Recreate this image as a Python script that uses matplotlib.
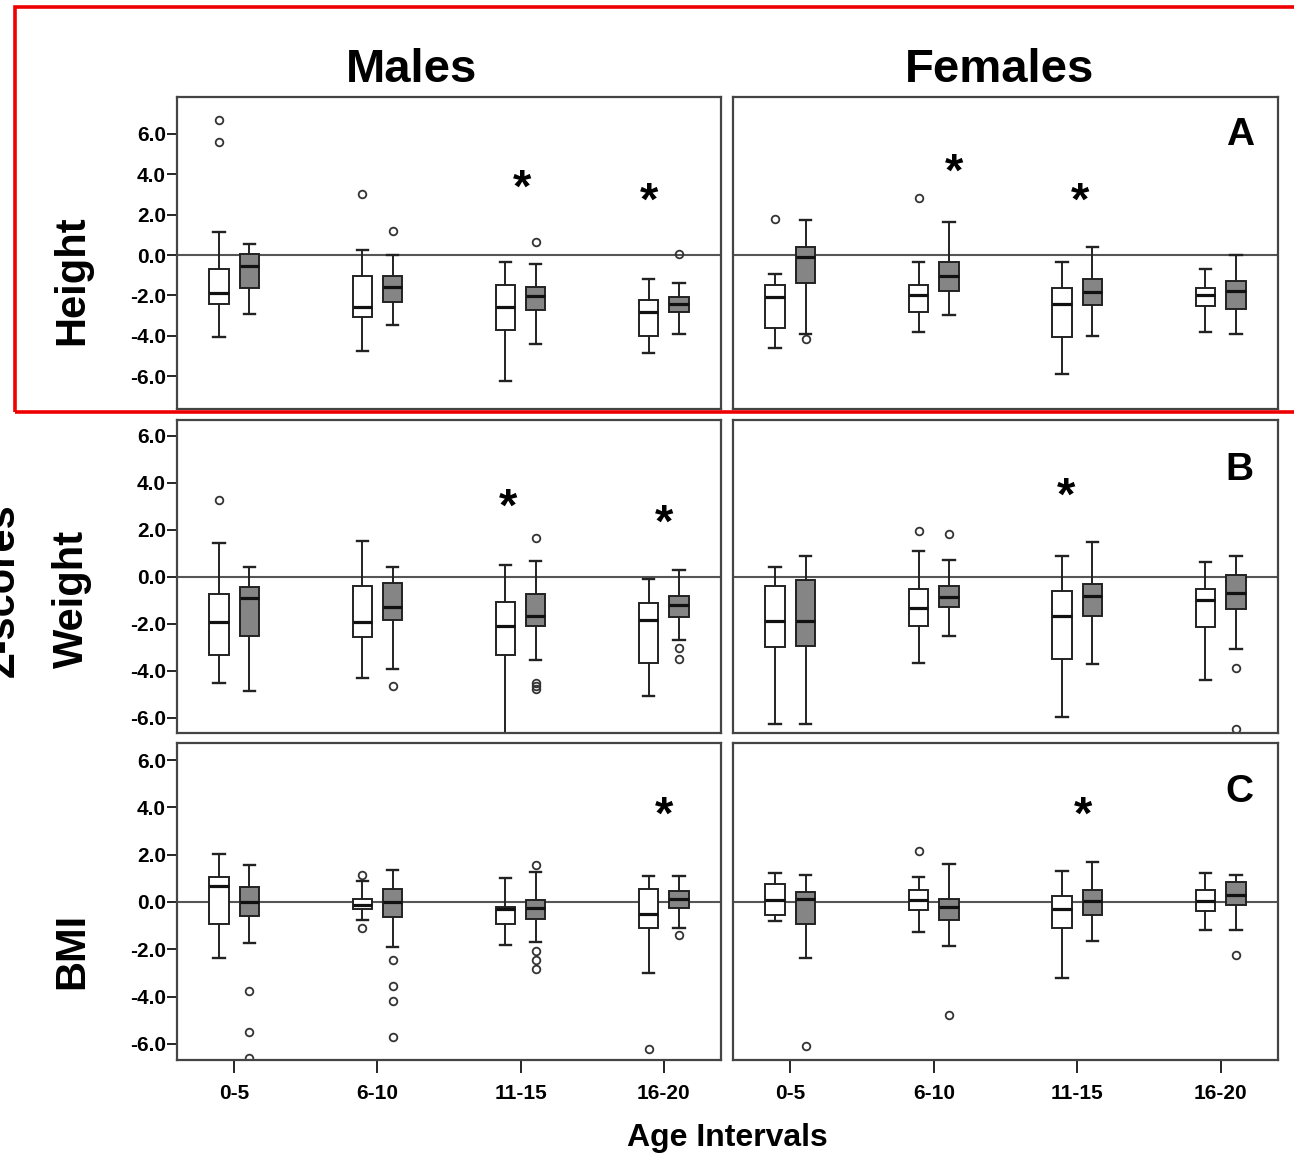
import matplotlib.pyplot as plt
from matplotlib.patches import Rectangle

plt.rcParams['font.family'] = ['Liberation Sans', 'DejaVu Sans']

ages = ['0-5', '6-10', '11-15', '16-20']
sexes = ['Males', 'Females']
measures = ['Height', 'Weight', 'BMI']
panel_tags = ['A', 'B', 'C']

# five numbers per box: [whisker low, q1, median, q3, whisker high]
height_m_white = [[-4.05, -2.43, -1.89, -0.70, 1.15], [-4.75, -3.07, -2.59, -1.03, 0.25],
                  [-6.23, -3.72, -2.59, -1.48, -0.33], [-4.87, -4.02, -2.82, -2.21, -1.20]]
height_m_white_out = [[6.67, 5.6], [3.0], [], []]
height_m_gray = [[-2.92, -1.64, -0.52, 0.03, 0.57], [-3.44, -2.33, -1.56, -1.02, 0.0],
                 [-4.38, -2.74, -2.05, -1.56, -0.46], [-3.93, -2.84, -2.41, -2.08, -1.39]]
height_m_gray_out = [[], [1.18], [0.66], [0.05]]

height_f_white = [[-4.61, -3.61, -2.08, -1.48, -0.93], [-3.82, -2.84, -1.97, -1.48, -0.36],
                  [-5.90, -4.05, -2.41, -1.61, -0.36], [-3.82, -2.54, -2.0, -1.61, -0.69]]
height_f_white_out = [[1.8], [2.84], [], []]
height_f_gray = [[-3.9, -1.36, -0.12, 0.38, 1.74], [-2.98, -1.8, -1.03, -0.36, 1.61],
                 [-4.02, -2.46, -1.85, -1.2, 0.38], [-3.93, -2.67, -1.8, -1.28, 0.0]]
height_f_gray_out = [[-4.18], [], [], []]

weight_m_white = [[-4.51, -3.3, -1.91, -0.71, 1.45], [-4.3, -2.55, -1.93, -0.4, 1.52],
                  [-7.0, -3.33, -2.1, -1.06, 0.5], [-5.05, -3.66, -1.84, -1.1, -0.07]]
weight_m_white_out = [[3.29], [], [], []]
weight_m_gray = [[-4.84, -2.5, -0.89, -0.43, 0.41], [-3.9, -1.82, -1.28, -0.26, 0.41],
                 [-3.52, -2.1, -1.67, -0.71, 0.7], [-2.7, -1.72, -1.18, -0.79, 0.31]]
weight_m_gray_out = [[], [-4.62], [1.66, -4.5, -4.62, -4.75], [-3.02, -3.48]]

weight_f_white = [[-6.24, -2.99, -1.89, -0.4, 0.43], [-3.66, -2.1, -1.32, -0.5, 1.12],
                  [-5.97, -3.48, -1.67, -0.61, 0.88], [-4.4, -2.13, -0.99, -0.5, 0.64]]
weight_f_white_out = [[], [1.97], [], []]
weight_f_gray = [[-6.24, -2.92, -1.89, -0.11, 0.88], [-2.5, -1.28, -0.87, -0.4, 0.71],
                 [-3.7, -1.67, -0.79, -0.28, 1.49], [-3.06, -1.36, -0.68, 0.1, 0.88]]
weight_f_gray_out = [[], [1.83], [], [-3.87, -6.45]]

bmi_m_white = [[-2.35, -0.95, 0.67, 1.05, 2.03], [-0.77, -0.31, -0.11, 0.14, 0.87],
               [-1.82, -0.95, -0.28, -0.21, 1.0], [-3.0, -1.12, -0.49, 0.53, 1.08]]
bmi_m_white_out = [[], [1.12, -1.09], [], [-6.22]]
bmi_m_gray = [[-1.75, -0.59, 0.0, 0.63, 1.57], [-1.89, -0.63, 0.0, 0.53, 1.36],
              [-1.68, -0.74, -0.25, 0.1, 1.26], [-1.12, -0.24, 0.14, 0.45, 1.08]]
bmi_m_gray_out = [[-3.75, -5.5, -6.6], [-2.45, -3.57, -4.2, -5.69], [1.57, -2.07, -2.45, -2.83], [-1.4]]

bmi_f_white = [[-0.81, -0.56, 0.07, 0.77, 1.23], [-1.26, -0.32, 0.1, 0.52, 1.05],
               [-3.22, -1.12, -0.28, 0.24, 1.33], [-1.19, -0.38, 0.04, 0.52, 1.23]]
bmi_f_white_out = [[], [2.17], [], []]
bmi_f_gray = [[-2.35, -0.95, 0.14, 0.42, 1.12], [-1.85, -0.77, -0.21, 0.14, 1.61],
              [-1.64, -0.53, 0.04, 0.49, 1.68], [-1.19, -0.14, 0.31, 0.84, 1.15]]
bmi_f_gray_out = [[-6.08], [-4.78], [], [-2.24]]

panels = [
    [(height_m_white, height_m_white_out, height_m_gray, height_m_gray_out),
     (height_f_white, height_f_white_out, height_f_gray, height_f_gray_out)],
    [(weight_m_white, weight_m_white_out, weight_m_gray, weight_m_gray_out),
     (weight_f_white, weight_f_white_out, weight_f_gray, weight_f_gray_out)],
    [(bmi_m_white, bmi_m_white_out, bmi_m_gray, bmi_m_gray_out),
     (bmi_f_white, bmi_f_white_out, bmi_f_gray, bmi_f_gray_out)],
]

# significance stars: (row, col, age index, x shift, z value)
stars = [(0, 0, 2, 0.01, 3.95), (0, 0, 3, -0.1, 3.3),
         (0, 1, 1, 0.14, 4.75), (0, 1, 2, 0.02, 3.3),
         (1, 0, 2, -0.09, 3.5), (1, 0, 3, 0.0, 2.85),
         (1, 1, 2, -0.08, 4.0),
         (2, 0, 3, 0.0, 4.2),
         (2, 1, 2, 0.04, 4.2)]

W, H = 1294, 1156
fig = plt.figure(figsize=(W / 100, H / 100), dpi=100)

row_px = [(97, 409), (420, 733), (743, 1060)]
col_px = [(177, 721), (733, 1278)]
row_lims = [(-7.62, 7.82), (-6.64, 6.68), (-6.68, 6.72)]
ticks = [-6, -4, -2, 0, 2, 4, 6]


def five_stats(five, out):
    return dict(whislo=five[0], q1=five[1], med=five[2], q3=five[3], whishi=five[4], fliers=out)


def draw_boxes(ax, fives, outs, pos, color):
    ax.bxp([five_stats(f, o) for f, o in zip(fives, outs)], positions=pos, widths=0.136,
           capwidths=0.08, patch_artist=True, showfliers=True,
           boxprops=dict(facecolor=color, edgecolor='#222222', linewidth=1.4),
           medianprops=dict(color='#111111', linewidth=2.3),
           whiskerprops=dict(color='#222222', linewidth=1.4),
           capprops=dict(color='#222222', linewidth=1.7),
           flierprops=dict(marker='o', markersize=5.5, markerfacecolor='none',
                           markeredgecolor='#333333', markeredgewidth=1.3))


axes = {}
for r in range(3):
    for c in range(2):
        x0, x1 = col_px[c]
        y0, y1 = row_px[r]
        ax = fig.add_axes([x0 / W, 1 - y1 / H, (x1 - x0) / W, (y1 - y0) / H])
        axes[(r, c)] = ax
        white, white_out, gray, gray_out = panels[r][c]
        x = [i + 1 for i in range(len(ages))]
        ax.axhline(0, color='#555555', linewidth=1.5, zorder=1)
        draw_boxes(ax, white, white_out, [v - 0.106 for v in x], 'white')
        draw_boxes(ax, gray, gray_out, [v + 0.106 for v in x], '#858585')
        ax.set_xlim(0.6, 4.4)
        ax.set_ylim(*row_lims[r])
        for s in ax.spines.values():
            s.set_color('#444444')
            s.set_linewidth(1.6)
        ax.set_yticks(ticks)
        if c == 0:
            ax.set_yticklabels([f'{t:.1f}' for t in ticks], fontsize=15, fontweight='bold')
            ax.tick_params(axis='y', length=7, width=1.2, pad=1)
        else:
            ax.tick_params(axis='y', left=False, labelleft=False)
        ax.set_xticks(x)
        if r == 2:
            ax.set_xticklabels(ages, fontsize=15, fontweight='bold')
            ax.tick_params(axis='x', length=9, width=1.2, pad=8)
        else:
            ax.tick_params(axis='x', bottom=False, labelbottom=False)
        if c == 1:
            ax.text(0.93, [0.878, 0.84, 0.845][r], panel_tags[r], transform=ax.transAxes,
                    ha='center', va='center', fontsize=28, fontweight='bold')

for r, c, g, dx, z in stars:
    fs = 34
    axes[(r, c)].annotate('*', (g + 1 + dx, z), xytext=(0, -0.56 * fs), textcoords='offset points',
                          ha='center', va='baseline', fontsize=fs, fontweight='bold')

fig.text(412 / W, 1 - 70 / H, 'Males', ha='center', va='center', fontsize=34, fontweight='bold')
fig.text(1000 / W, 1 - 70 / H, 'Females', ha='center', va='center', fontsize=34, fontweight='bold')
for label, yc in zip(measures, [280, 599, 951]):
    fig.text(72 / W, 1 - yc / H, label, rotation=90, ha='center', va='center',
             fontsize=30, fontweight='bold')
fig.text(3 / W, 1 - 590 / H, 'Z-scores', rotation=90, ha='center', va='center',
         fontsize=30, fontweight='bold')
fig.text(727 / W, 1 - 1138 / H, 'Age Intervals', ha='center', va='center',
         fontsize=23, fontweight='bold')

fig.patches.append(Rectangle((15.5 / W, 1 - 412 / H), 1290 / W, 405 / H, transform=fig.transFigure,
                             fill=False, edgecolor='#ee0000', linewidth=2.6, clip_on=False))

fig.savefig('out.png', dpi=100)
